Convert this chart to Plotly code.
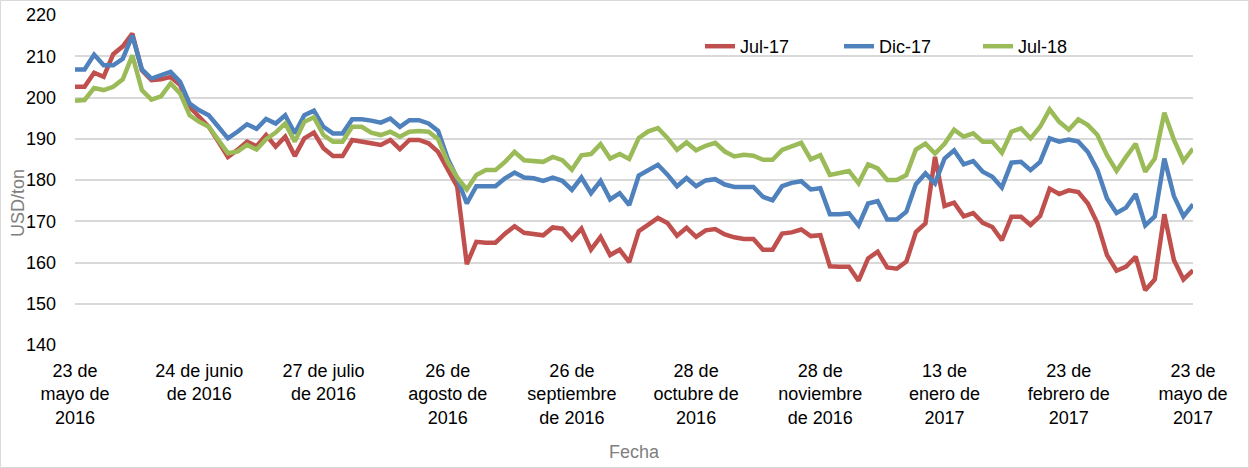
import plotly.graph_objects as go

jul17 = [202.6, 202.6, 206.0, 205.0, 210.5, 212.4, 215.5, 206.6, 204.2, 204.4,
         205.0, 203.0, 197.7, 195.3, 192.9, 189.3, 185.6, 187.3, 189.3, 188.2,
         190.9, 188.1, 190.5, 185.8, 190.1, 191.5, 187.7, 185.8, 185.8, 189.7,
         189.4, 188.9, 188.5, 189.7, 187.5, 189.7, 189.7, 188.9, 186.8, 182.6,
         178.4, 159.6, 165.0, 164.8, 164.8, 167.0, 168.8, 167.2, 166.9, 166.6,
         168.5, 168.2, 165.6, 168.2, 163.1, 166.2, 161.8, 163.1, 160.1, 167.6,
         169.2, 170.8, 169.6, 166.5, 168.4, 166.2, 167.8, 168.1, 166.8, 166.1,
         165.7, 165.7, 163.1, 163.1, 167.0, 167.3, 168.0, 166.4, 166.6, 159.1,
         159.0, 159.0, 155.6, 161.0, 162.6, 158.8, 158.5, 160.2, 167.4, 169.5,
         185.6, 173.7, 174.5, 171.2, 172.0, 169.6, 168.6, 165.4, 171.1, 171.1,
         169.1, 171.3, 177.9, 176.6, 177.5, 177.1, 174.3, 169.5, 161.8, 158.0,
         159.0, 161.4, 153.3, 155.9, 171.7, 160.6, 155.9, 158.1]

dic17 = [206.8, 206.8, 210.4, 207.8, 207.8, 209.4, 215.0, 206.8, 204.6, 205.4,
         206.2, 203.8, 198.5, 196.9, 195.7, 192.9, 190.1, 191.7, 193.5, 192.4,
         194.8, 193.7, 195.7, 191.3, 195.7, 196.8, 192.9, 191.3, 191.3, 194.7,
         194.7, 194.4, 193.9, 194.9, 192.9, 194.5, 194.5, 193.7, 191.9, 185.2,
         180.4, 174.3, 178.5, 178.5, 178.5, 180.4, 181.8, 180.6, 180.4, 179.8,
         180.6, 179.8, 177.6, 180.6, 176.8, 179.8, 175.3, 176.8, 173.9, 181.1,
         182.5, 183.7, 181.3, 178.5, 180.5, 178.5, 179.9, 180.2, 178.9, 178.3,
         178.3, 178.3, 175.9, 175.1, 178.5, 179.3, 179.7, 177.7, 178.0, 171.7,
         171.7, 171.9, 169.0, 174.3, 174.9, 170.4, 170.4, 172.3, 179.0, 181.6,
         179.2, 185.2, 187.2, 183.8, 184.6, 182.0, 180.8, 178.2, 184.2, 184.4,
         182.4, 184.4, 190.1, 189.3, 189.8, 189.3, 186.8, 182.4, 175.5, 172.0,
         173.3, 176.6, 169.0, 171.2, 185.2, 176.1, 171.2, 174.1]

jul18 = [199.2, 199.4, 202.3, 201.8, 202.6, 204.4, 210.2, 201.8, 199.5, 200.3,
         203.4, 201.0, 195.7, 194.1, 192.9, 189.7, 186.5, 186.9, 188.5, 187.4,
         189.9, 191.5, 193.7, 189.3, 194.1, 195.2, 190.9, 189.3, 189.3, 192.9,
         192.9, 191.5, 190.9, 191.7, 190.5, 191.7, 191.9, 191.7, 189.9, 184.4,
         180.6, 177.7, 181.2, 182.4, 182.4, 184.4, 186.8, 184.8, 184.6, 184.4,
         185.6, 184.8, 182.5, 186.0, 186.3, 188.7, 185.2, 186.3, 185.1, 190.2,
         191.8, 192.6, 190.2, 187.3, 189.1, 187.2, 188.3, 189.0, 186.9, 185.7,
         186.1, 185.9, 184.9, 184.9, 187.3, 188.1, 189.0, 185.0, 186.0, 181.2,
         181.7, 182.2, 179.2, 183.8, 182.8, 180.0, 180.0, 181.2, 187.4, 188.8,
         186.4, 188.8, 192.2, 190.5, 191.3, 189.3, 189.3, 186.6, 191.7, 192.5,
         190.1, 192.9, 197.1, 194.1, 192.2, 194.7, 193.3, 190.9, 186.0, 182.2,
         185.6, 188.8, 182.0, 185.2, 196.3, 189.8, 184.6, 187.6]

tick_index = [0, 13, 26, 39, 52, 65, 78, 91, 104, 117]
tick_labels = [
    "23 de<br>mayo de<br>2016",
    "24 de junio<br>de 2016",
    "27 de julio<br>de 2016",
    "26 de<br>agosto de<br>2016",
    "26 de<br>septiembre<br>de 2016",
    "28 de<br>octubre de<br>2016",
    "28 de<br>noviembre<br>de 2016",
    "13 de<br>enero de<br>2017",
    "23 de<br>febrero de<br>2017",
    "23 de<br>mayo de<br>2017",
]

x = list(range(len(jul17)))
FONT = "Liberation Sans, Arial, sans-serif"

fig = go.Figure()
for name, vals, color in [("Jul-17", jul17, "#C0504D"),
                          ("Dic-17", dic17, "#4F81BD"),
                          ("Jul-18", jul18, "#9BBB59")]:
    fig.add_trace(go.Scatter(x=x, y=vals, mode="lines", name=name,
                             line=dict(color=color, width=4.5)))

fig.update_layout(
    width=1249, height=468,
    margin=dict(l=75, r=56, t=15, b=123),
    paper_bgcolor="white", plot_bgcolor="white",
    font=dict(family=FONT, size=18, color="#000000"),
    showlegend=True,
    legend=dict(orientation="h", x=(700 - 75) / 1118, y=1 - (28 - 15) / 330,
                xanchor="left", yanchor="top",
                font=dict(size=18, color="#000000"), bgcolor="rgba(0,0,0,0)",
                traceorder="normal", entrywidth=94, entrywidthmode="pixels"),
    xaxis=dict(range=[0, len(x) - 1], tickmode="array", tickvals=tick_index,
               ticktext=tick_labels, showgrid=False, zeroline=False,
               showline=False, ticks="", tickfont=dict(size=18),
               ticklabelstandoff=13, automargin=False),
    yaxis=dict(range=[140, 220], dtick=10, tick0=140, showgrid=True,
               gridcolor="#D9D9D9", gridwidth=1.5, zeroline=False,
               showline=False, ticks="", tickfont=dict(size=18),
               ticklabelstandoff=18, automargin=False),
    annotations=[
        dict(text="USD/ton", xref="paper", yref="paper",
             x=(18 - 75) / 1118, y=1 - (203 - 15) / 330,
             xanchor="center", yanchor="middle", textangle=-90,
             showarrow=False, font=dict(size=18, color="#7F7F7F")),
        dict(text="Fecha", xref="paper", yref="paper",
             x=0.5, y=1 - (452 - 15) / 330, xanchor="center", yanchor="middle",
             showarrow=False, font=dict(size=18, color="#7F7F7F")),
    ],
    shapes=[dict(type="rect", xref="paper", yref="paper",
                 x0=-74.5 / 1118, x1=1 + 55.5 / 1118,
                 y0=-122.5 / 330, y1=1 + 14.5 / 330,
                 line=dict(color="#D9D9D9", width=1), layer="below")],
)

fig.write_html("out.html", config={"displayModeBar": False},
               post_script="document.body.style.margin='0px';"
                           "document.body.style.overflow='hidden';")
